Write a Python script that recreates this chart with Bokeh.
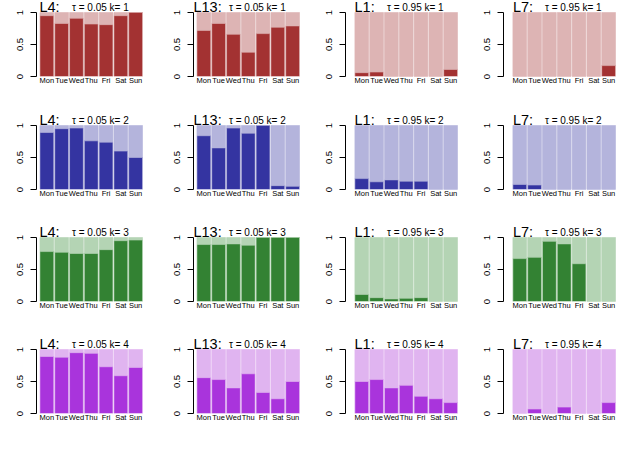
import numpy as np
from bokeh.plotting import figure
from bokeh.layouts import column, row
from bokeh.models import Range1d, FixedTicker, Label
from bokeh.embed import file_html
from bokeh.resources import INLINE

# ---------------- data ----------------
days = ["Mon", "Tue", "Wed", "Thu", "Fri", "Sat", "Sun"]
locations = ["L4", "L13", "L1", "L7"]
taus = ["0.05", "0.05", "0.95", "0.95"]
ks = [1, 2, 3, 4]
y_ticks = [0, 0.5, 1]
y_tick_labels = ["0", "0.5", "1"]

# share (dark part) per day, one list per k = 1..4
L4_share = [
    [0.95, 0.83, 0.91, 0.82, 0.81, 0.95, 1.00],
    [0.89, 0.95, 0.96, 0.76, 0.74, 0.60, 0.50],
    [0.78, 0.77, 0.75, 0.75, 0.81, 0.95, 0.96],
    [0.89, 0.88, 0.95, 0.94, 0.73, 0.59, 0.72],
]
L13_share = [
    [0.72, 0.83, 0.66, 0.38, 0.67, 0.77, 0.79],
    [0.84, 0.65, 0.96, 0.88, 1.00, 0.06, 0.05],
    [0.89, 0.89, 0.90, 0.88, 1.00, 1.00, 1.00],
    [0.56, 0.53, 0.40, 0.62, 0.33, 0.23, 0.50],
]
L1_share = [
    [0.06, 0.07, 0.00, 0.00, 0.00, 0.00, 0.11],
    [0.17, 0.12, 0.15, 0.13, 0.13, 0.00, 0.00],
    [0.11, 0.06, 0.04, 0.05, 0.06, 0.00, 0.00],
    [0.50, 0.53, 0.40, 0.44, 0.27, 0.23, 0.17],
]
L7_share = [
    [0.00, 0.00, 0.00, 0.00, 0.00, 0.00, 0.17],
    [0.08, 0.07, 0.00, 0.00, 0.00, 0.00, 0.00],
    [0.67, 0.69, 0.94, 0.90, 0.59, 0.00, 0.00],
    [0.00, 0.07, 0.00, 0.10, 0.00, 0.00, 0.17],
]
shares = [L4_share, L13_share, L1_share, L7_share]

# ---------------- style / layout ----------------
dark = ["#A33232", "#3434A1", "#338233", "#A934DC"]
light = ["#DDB4B4", "#B4B4DC", "#B4D4B4", "#E0B4F0"]
FONT = "Liberation Sans"

col_widths = [165, 152, 158, 147]
left_borders = [36, 28, 28, 28]
right_borders = [21, 16, 16, 5]
x_starts = [-0.2, -0.2, -0.6, -0.6]
x_end = 7.1
row_heights = [113, 112, 112, 92]
bottom_borders = [37, 36, 36, 16]
y_top = 1.1875          # head room inside the frame for the panel titles
bar_w = 0.93
title_offsets = [-0.5, -3.5, -0.4, 0.0]
sub_offsets = [32, 32, 32, 32]

xs = np.arange(len(days)) + 0.5
x_overrides = {float(x): d for x, d in zip(xs, days)}
y_overrides = {t: l for t, l in zip(y_ticks, y_tick_labels)}

rows = []
for r, k in enumerate(ks):
    figs = []
    for c, loc in enumerate(locations):
        vals = np.array(shares[c][r])
        p = figure(width=col_widths[c], height=row_heights[r],
                   x_range=Range1d(x_starts[c], x_end), y_range=Range1d(0, y_top),
                   output_backend="svg", toolbar_location=None,
                   min_border_left=left_borders[c], min_border_right=right_borders[c],
                   min_border_top=0, min_border_bottom=bottom_borders[r])
        p.outline_line_color = None
        p.xgrid.visible = False
        p.ygrid.visible = False
        p.background_fill_color = "white"
        p.border_fill_color = "white"

        p.vbar(x=xs, width=bar_w, bottom=vals, top=1.0,
               fill_color=light[r], line_color=light[r], line_width=0.6)
        p.vbar(x=xs, width=bar_w, bottom=0.0, top=vals,
               fill_color=dark[r], line_color=light[r], line_width=0.6)

        # y axis
        ya = p.yaxis[0]
        ya.ticker = FixedTicker(ticks=y_ticks)
        ya.bounds = (0, 1)
        ya.major_label_overrides = y_overrides
        ya.major_label_orientation = "vertical"
        ya.major_label_text_font = FONT
        ya.major_label_text_font_size = "9.5px"
        ya.major_label_text_color = "black"
        ya.major_tick_in = 0
        ya.major_tick_out = 6
        ya.minor_tick_line_color = None
        ya.minor_tick_out = 0
        ya.axis_line_color = "black"
        ya.major_tick_line_color = "black"
        ya.major_label_standoff = 8

        # x axis
        xa = p.xaxis[0]
        xa.ticker = FixedTicker(ticks=list(xs))
        xa.major_label_overrides = x_overrides
        xa.axis_line_color = None
        xa.major_tick_line_color = None
        xa.minor_tick_line_color = None
        xa.major_tick_in = 0
        xa.major_tick_out = 0
        xa.minor_tick_in = 0
        xa.minor_tick_out = 0
        xa.major_label_text_font = FONT
        xa.major_label_text_font_size = "7.5px"
        xa.major_label_text_color = "black"
        xa.major_label_standoff = -1

        bar_left = xs[0] - bar_w / 2
        p.add_layout(Label(x=bar_left, y=1.0, x_offset=title_offsets[c], y_offset=5.3,
                           text=f"{loc}:", text_font=FONT, text_font_size="14.5px",
                           text_baseline="middle", text_color="black"))
        p.add_layout(Label(x=bar_left, y=1.0, x_offset=sub_offsets[c], y_offset=5.3,
                           text=f"\u03c4 = {taus[c]} k= {k}", text_font=FONT,
                           text_font_size="10px", text_baseline="middle",
                           text_color="black"))
        figs.append(p)
    rows.append(row(*figs, spacing=0))

layout = column(*rows, spacing=0)
open("out.html", "w").write(file_html(layout, INLINE))
